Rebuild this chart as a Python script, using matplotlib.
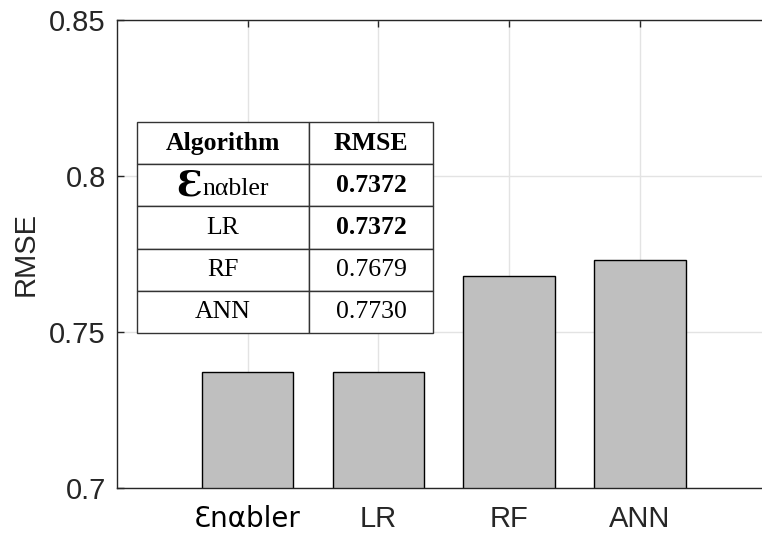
import numpy as np
import matplotlib.pyplot as plt
from matplotlib.offsetbox import TextArea, HPacker, AnchoredOffsetbox

# data
algorithms = ['Ɛnαbler', 'LR', 'RF', 'ANN']
rmse = [0.7372, 0.7372, 0.7679, 0.7730]
rmse_labels = ['0.7372', '0.7372', '0.7679', '0.7730']
bold_rows = [True, True, False, False]
yticks = [0.7, 0.75, 0.8, 0.85]
ytick_labels = ['0.7', '0.75', '0.8', '0.85']

plt.rcParams['font.family'] = ['Liberation Sans', 'DejaVu Sans']
axcol = '#262626'

fig = plt.figure(figsize=(7.62, 5.35), dpi=100)
ax = fig.add_axes([0.1535, 0.0879, 0.8576, 0.8748])

x = np.arange(1, len(algorithms) + 1)
ax.bar(x, rmse, width=0.7, color='#bfbfbf', edgecolor='black', linewidth=1.0, zorder=2)

ax.set_xlim(0, 5)
ax.set_ylim(0.7, 0.85)
ax.set_yticks(yticks)
ax.set_yticklabels(ytick_labels)
ax.set_xticks(x)
ax.set_xticklabels(algorithms)
ax.set_ylabel('RMSE', fontsize=21, color=axcol, labelpad=7)

ax.grid(True, color='#e3e3e3', linewidth=1.0, zorder=0)
ax.set_axisbelow(True)
for s in ax.spines.values():
    s.set_color(axcol)
    s.set_linewidth(1.0)
ax.spines['right'].set_visible(False)  # axes box runs past the crop
ax.tick_params(direction='in', top=True, right=False, length=5, width=1,
               color=axcol, labelsize=21, labelcolor=axcol)
ax.tick_params(axis='x', pad=12)
ax.tick_params(axis='y', pad=8)
lab0 = ax.get_xticklabels()[0]
lab0.set_color('black')
lab0.set_family(['DejaVu Sans'])
lab0.set_fontsize(20)

# results table
cell_text = [['Algorithm', 'RMSE']]
for name, r in zip(algorithms, rmse_labels):
    cell_text.append(['' if name.startswith('Ɛ') else name, r])

tb = ax.table(cellText=cell_text, cellLoc='center', colWidths=[172, 124],
              bbox=[0.0306, 0.331, 0.453, 0.451], zorder=5)
tb.auto_set_font_size(False)
tb.set_fontsize(18.5)
for (r, c), cell in tb.get_celld().items():
    cell.set_edgecolor('#333333')
    cell.set_linewidth(1.0)
    t = cell.get_text()
    t.set_family(['Liberation Serif', 'DejaVu Serif'])
    t.set_color('black')
    if r == 0 or (c == 1 and bold_rows[r - 1]):
        t.set_fontweight('bold')

# first algorithm name with a larger leading letter
name_box = HPacker(children=[
    TextArea('Ɛ', textprops=dict(size=26, family=['DejaVu Serif'], weight='bold', color='black')),
    TextArea('nαbler', textprops=dict(size=18.5, family=['Liberation Serif', 'DejaVu Serif'], color='black')),
], align='baseline', pad=0, sep=0)
ab = AnchoredOffsetbox(loc='center', child=name_box, pad=0, frameon=False,
                       bbox_to_anchor=(0.0306 + 0.453 * 172 / 296 / 2, 0.782 - 0.451 * 1.5 / 5),
                       bbox_transform=ax.transAxes)
ab.set_zorder(6)
ax.add_artist(ab)

plt.savefig('out.png', dpi=100)
